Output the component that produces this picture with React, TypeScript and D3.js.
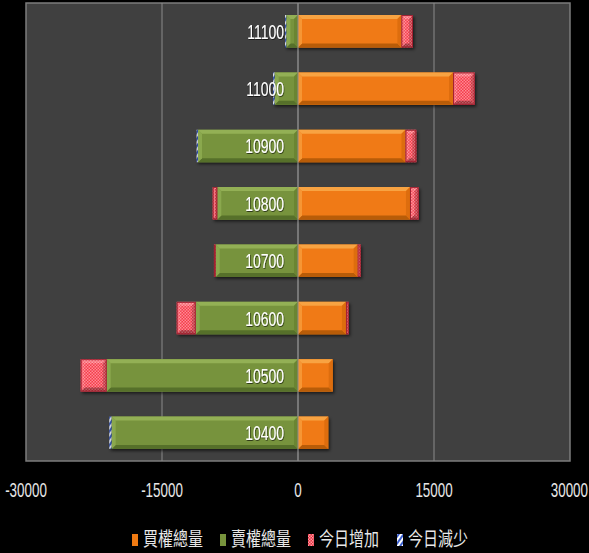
import React from "react";
import * as d3 from "d3";

const categories = ["11100", "11000", "10900", "10800", "10700", "10600", "10500", "10400"];
const callTotal = [11400, 17100, 11850, 12350, 6580, 5290, 3830, 3340];
const putTotal = [1280, 2570, 11030, 8900, 9080, 11280, 21100, 20550];
const callIncrease = [1280, 2390, 1200, 960, 330, 300, 0, 0];
const putIncrease = [0, 0, 0, 510, 190, 2100, 2870, 0];
const putDecrease = [150, 180, 150, 0, 0, 0, 0, 260];
const xTicks = [-30000, -15000, 0, 15000, 30000];
const legendLabels = ["買權總量", "賣權總量", "今日增加", "今日減少"];

const W = 589;
const H = 553;
const plot = { left: 26, right: 570, top: 3, bottom: 461 };

const colors = {
  orange: { main: "#f07a12", top: "#f8a342", bottom: "#b85c08", side: "#d86a0c" },
  green: { main: "#77933c", top: "#93b055", bottom: "#56702a", side: "#66822f" },
};

type Seg = { x0: number; x1: number; fill: string; kind: "orange" | "green" | "red" | "blue" };

function Bevel({ x0, x1, y, h, kind }: { x0: number; x1: number; y: number; h: number; kind: string }) {
  const left = Math.min(x0, x1);
  const right = Math.max(x0, x1);
  const w = right - left;
  if (w <= 0) return null;
  const b = Math.min(4, w / 2, h / 2);
  const c = kind === "orange" ? colors.orange : kind === "green" ? colors.green : null;
  const topFill = c ? c.top : "rgba(255,255,255,0.25)";
  const botFill = c ? c.bottom : "rgba(0,0,0,0.3)";
  const sideL = c ? c.top : "rgba(255,255,255,0.15)";
  const sideR = c ? c.side : "rgba(0,0,0,0.2)";
  const pts = (a: number[][]) => a.map((p) => p.join(",")).join(" ");
  return (
    <g>
      <polygon points={pts([[left, y], [right, y], [right - b, y + b], [left + b, y + b]])} fill={topFill} opacity={c ? 1 : 0.9} />
      <polygon points={pts([[left, y + h], [right, y + h], [right - b, y + h - b], [left + b, y + h - b]])} fill={botFill} />
      <polygon points={pts([[left, y], [left + b, y + b], [left + b, y + h - b], [left, y + h]])} fill={sideL} opacity={0.7} />
      <polygon points={pts([[right, y], [right - b, y + b], [right - b, y + h - b], [right, y + h]])} fill={sideR} opacity={0.8} />
    </g>
  );
}

export default function App() {
  const x = d3.scaleLinear().domain([-30000, 30000]).range([plot.left, plot.right]);
  const y = d3
    .scaleBand<string>()
    .domain(categories)
    .range([plot.top, plot.bottom])
    .paddingInner(0.435)
    .paddingOuter(0.21);
  const bw = y.bandwidth();

  const rows = categories.map((cat, i) => {
    const segs: Seg[] = [];
    segs.push({ x0: x(0), x1: x(callTotal[i]), fill: colors.orange.main, kind: "orange" });
    if (callIncrease[i] > 0)
      segs.push({ x0: x(callTotal[i]), x1: x(callTotal[i] + callIncrease[i]), fill: "url(#redPat)", kind: "red" });
    segs.push({ x0: x(-putTotal[i]), x1: x(0), fill: colors.green.main, kind: "green" });
    if (putIncrease[i] > 0)
      segs.push({ x0: x(-putTotal[i] - putIncrease[i]), x1: x(-putTotal[i]), fill: "url(#redPat)", kind: "red" });
    if (putDecrease[i] > 0)
      segs.push({ x0: x(-putTotal[i] - putDecrease[i]), x1: x(-putTotal[i]), fill: "url(#bluePat)", kind: "blue" });
    return { cat, segs };
  });

  const legendX = [132, 220, 308, 397];
  const legendFills = [colors.orange.main, colors.green.main, "url(#redPatL)", "url(#bluePatL)"];
  const sx = 0.67;

  return (
    <svg
      width={W}
      height={H}
      style={{ position: "absolute", left: 0, top: 0, background: "#000", display: "block" }}
      xmlns="http://www.w3.org/2000/svg"
    >
      <defs>
        <pattern id="redPat" width="3" height="3" patternUnits="userSpaceOnUse">
          <rect width="3" height="3" fill="#f43e4c" />
          <rect x="0" y="0" width="1.5" height="1.5" fill="#ff8a92" />
          <rect x="1.5" y="1.5" width="1.5" height="1.5" fill="#ff8a92" />
        </pattern>
        <pattern id="redPatL" width="3" height="3" patternUnits="userSpaceOnUse">
          <rect width="3" height="3" fill="#e83040" />
          <rect x="0" y="0" width="1.5" height="1.5" fill="#ff9aa2" />
          <rect x="1.5" y="1.5" width="1.5" height="1.5" fill="#ff9aa2" />
        </pattern>
        <pattern id="bluePat" width="4" height="4" patternUnits="userSpaceOnUse" patternTransform="rotate(35)">
          <rect width="4" height="4" fill="#dfe4f4" />
          <rect width="2" height="4" fill="#2d4fb8" />
        </pattern>
        <pattern id="bluePatL" width="4" height="4" patternUnits="userSpaceOnUse" patternTransform="rotate(35)">
          <rect width="4" height="4" fill="#ffffff" />
          <rect width="2" height="4" fill="#3b5fd0" />
        </pattern>
        <filter id="shadow" x="-10%" y="-30%" width="130%" height="170%">
          <feDropShadow dx="1.5" dy="2" stdDeviation="1.5" floodColor="#000" floodOpacity="0.6" />
        </filter>
        <filter id="txtShadow" x="-10%" y="-20%" width="130%" height="150%">
          <feDropShadow dx="1" dy="1" stdDeviation="0.6" floodColor="#000" floodOpacity="0.6" />
        </filter>
      </defs>

      <rect x={0} y={0} width={W} height={H} fill="#000" />
      <rect
        x={plot.left}
        y={plot.top}
        width={plot.right - plot.left}
        height={plot.bottom - plot.top}
        fill="#404040"
        stroke="#7c7c7c"
        strokeWidth={1.5}
      />
      {xTicks
        .filter((t) => t !== -30000 && t !== 30000)
        .map((t) => (
          <line key={t} x1={x(t)} x2={x(t)} y1={plot.top} y2={plot.bottom} stroke="#8a8a8a" strokeWidth={1} />
        ))}

      {rows.map((r) => {
        const yy = y(r.cat) as number;
        return (
          <g key={r.cat}>
            <g filter="url(#shadow)">
              {r.segs.map((s, j) => (
                <rect
                  key={j}
                  x={Math.min(s.x0, s.x1)}
                  y={yy}
                  width={Math.abs(s.x1 - s.x0)}
                  height={bw}
                  fill={s.fill}
                />
              ))}
            </g>
            {r.segs.map((s, j) => (
              <Bevel key={"b" + j} x0={s.x0} x1={s.x1} y={yy} h={bw} kind={s.kind} />
            ))}
            {r.segs
              .filter((s) => s.kind === "red")
              .map((s, j) => (
                <rect
                  key={"o" + j}
                  x={Math.min(s.x0, s.x1) + 0.5}
                  y={yy + 0.5}
                  width={Math.max(0, Math.abs(s.x1 - s.x0) - 1)}
                  height={bw - 1}
                  fill="none"
                  stroke="#a02030"
                  strokeWidth={1}
                />
              ))}
          </g>
        );
      })}

      <line x1={x(0)} x2={x(0)} y1={plot.top} y2={plot.bottom} stroke="#8a8a8a" strokeWidth={1} />

      {rows.map((r) => {
        const yy = (y(r.cat) as number) + bw / 2;
        return (
          <text
            key={"l" + r.cat}
            transform={`translate(${x(0) - 14},${yy + 7.5}) scale(0.665,1)`}
            textAnchor="end"
            fill="#ffffff"
            fontFamily="'Liberation Sans', Arial, sans-serif"
            fontSize={21}
            filter="url(#txtShadow)"
          >
            {r.cat}
          </text>
        );
      })}

      {xTicks.map((t, i) => {
        const s = String(t);
        const isLast = i === xTicks.length - 1;
        const tx = isLast ? W - 1 : x(t);
        return (
          <text
            key={"t" + t}
            transform={`translate(${tx},497) scale(${sx},1)`}
            textAnchor={isLast ? "end" : "middle"}
            fill="#e6e6e6"
            fontFamily="'Liberation Sans', Arial, sans-serif"
            fontSize={20}
          >
            {s}
          </text>
        );
      })}

      {legendLabels.map((lab, i) => (
        <g key={lab}>
          <rect x={legendX[i]} y={534} width={6} height={12} fill={legendFills[i]} />
          <text
            transform={`translate(${legendX[i] + 11},546) scale(0.79,1)`}
            fill="#e8e8e8"
            fontFamily="'Noto Sans CJK TC', 'Noto Sans CJK SC', sans-serif"
            fontSize={19}
          >
            {lab}
          </text>
        </g>
      ))}
    </svg>
  );
}
